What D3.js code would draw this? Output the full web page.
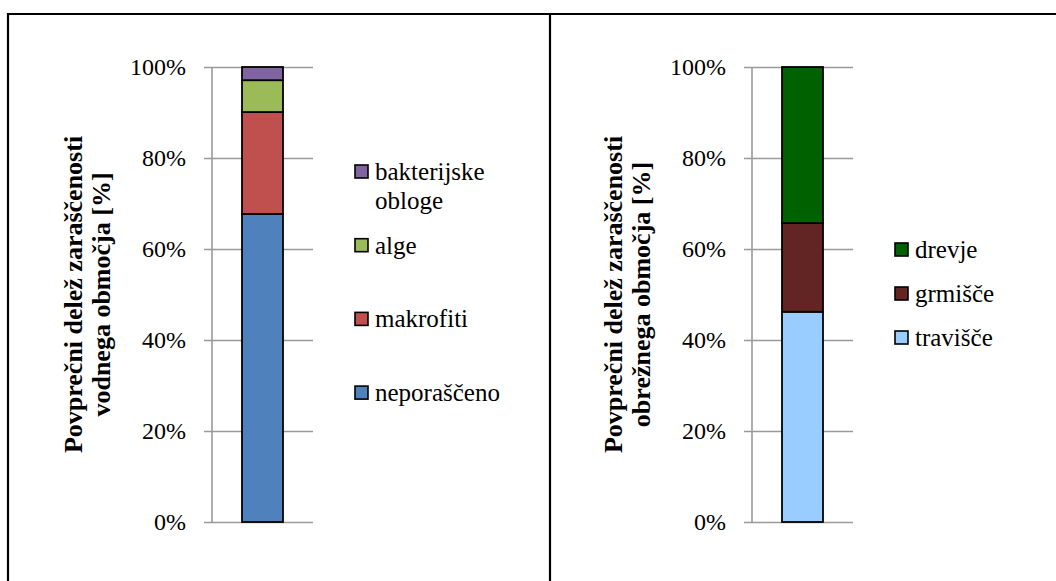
<!DOCTYPE html>
<html>
<head>
<meta charset="utf-8">
<script src="https://cdn.jsdelivr.net/npm/d3@7"></script>
<style>
  body { margin: 0; background: #fff; }
  svg text { fill: #000; }
</style>
</head>
<body>
<div id="chart"></div>
<script>
// data (shares in %)
var waterCats = ["neporaščeno", "makrofiti", "alge", "bakterijske obloge"];
var waterVals = [67.7, 22.4, 7.0, 2.9];
var waterColors = ["#4F81BD", "#C0504D", "#9BBB59", "#8064A2"];

var bankCats = ["travišče", "grmišče", "drevje"];
var bankVals = [46.2, 19.5, 34.3];
var bankColors = ["#99CCFF", "#632523", "#006100"];

var yTicks = [0, 20, 40, 60, 80, 100];

var serif = "'Liberation Serif', 'DejaVu Serif', 'Noto Serif', Tinos, FreeSerif, 'Nimbus Roman', 'Nimbus Roman No9 L', 'Times New Roman', Times, serif";

var svg = d3.select("#chart")
  .append("svg")
    .attr("width", 1056)
    .attr("height", 581)
    .style("font-family", serif);

// frame round the two panels
svg.append("path")
  .attr("d", "M8,581 V14 H1056 M550,14 V581")
  .attr("fill", "none")
  .attr("stroke", "#000")
  .attr("stroke-width", 2.2);

function drawPanel(opt) {
  var width = 101, top = 67, bottom = 522;

  var g = svg.append("g")
    .attr("transform", `translate(${opt.left}, 0)`);

  var y = d3.scaleLinear()
    .domain([0, 100])
    .range([bottom, top]);

  var x = d3.scaleBand()
    .domain(["a"])
    .range([0, width])
    .padding(0.4225);

  // Y axis with gridlines
  var ax = g.append("g")
    .call(d3.axisLeft(y)
      .tickValues(yTicks)
      .tickSize(-width)
      .tickPadding(26)
      .tickFormat(d => d + "%"));
  ax.attr("font-family", null).attr("font-size", 24);
  ax.select(".domain").remove();
  ax.selectAll(".tick line")
    .attr("x1", -8)
    .attr("stroke", "#9A9A9A")
    .attr("stroke-width", 1.6);
  ax.selectAll(".tick text")
    .style("font-family", serif);
  g.append("line")
    .attr("x1", 0).attr("x2", 0)
    .attr("y1", y(100)).attr("y2", y(0))
    .attr("stroke", "#9A9A9A")
    .attr("stroke-width", 1.6);

  // stacked bar
  var stack = [];
  var acc = 0;
  opt.vals.forEach(function(v, i) {
    stack.push({ y0: acc, y1: acc + v, color: opt.colors[i] });
    acc += v;
  });
  g.selectAll("rect.seg")
    .data(stack)
    .join("rect")
      .attr("class", "seg")
      .attr("x", x("a"))
      .attr("width", x.bandwidth())
      .attr("y", d => y(d.y1))
      .attr("height", d => y(d.y0) - y(d.y1))
      .attr("fill", d => d.color)
      .attr("stroke", "#000")
      .attr("stroke-width", 1.8);

  // axis title, two lines, rotated
  var t = g.append("text")
    .attr("transform", `translate(${opt.titleX}, ${(top + bottom) / 2}) rotate(-90)`)
    .attr("text-anchor", "middle")
    .attr("font-size", 26)
    .attr("font-weight", "bold");
  opt.title.forEach(function(line, i) {
    t.append("tspan")
      .attr("x", 0)
      .attr("dy", i === 0 ? 0 : 28)
      .text(line);
  });

  // legend, top entry = last series
  var leg = g.append("g")
    .attr("transform", `translate(${opt.legX}, 0)`);
  var items = opt.cats.map((c, i) => ({ name: c, color: opt.colors[i] })).reverse();
  items.forEach(function(d, k) {
    var cy = opt.legTop + k * opt.legStep;
    leg.append("rect")
      .attr("x", 0)
      .attr("y", cy - 7)
      .attr("width", 13)
      .attr("height", 13)
      .attr("fill", d.color)
      .attr("stroke", "#000")
      .attr("stroke-width", 1.6);
    var lines = opt.legLines[d.name] || [d.name];
    var lt = leg.append("text")
      .attr("x", 20)
      .attr("y", cy + 8)
      .attr("font-size", 25);
    lines.forEach(function(l, j) {
      lt.append("tspan")
        .attr("x", 20)
        .attr("dy", j === 0 ? 0 : 29)
        .text(l);
    });
  });
}

drawPanel({
  left: 212,
  vals: waterVals,
  colors: waterColors,
  cats: waterCats,
  title: ["Povprečni delež zaraščenosti", "vodnega območja [%]"],
  titleX: -130,
  legX: 143,
  legTop: 172,
  legStep: 73.7,
  legLines: { "bakterijske obloge": ["bakterijske", "obloge"] }
});

drawPanel({
  left: 752,
  vals: bankVals,
  colors: bankColors,
  cats: bankCats,
  title: ["Povprečni delež zaraščenosti", "obrežnega območja [%]"],
  titleX: -130,
  legX: 143,
  legTop: 250,
  legStep: 44,
  legLines: {}
});
</script>
</body>
</html>
